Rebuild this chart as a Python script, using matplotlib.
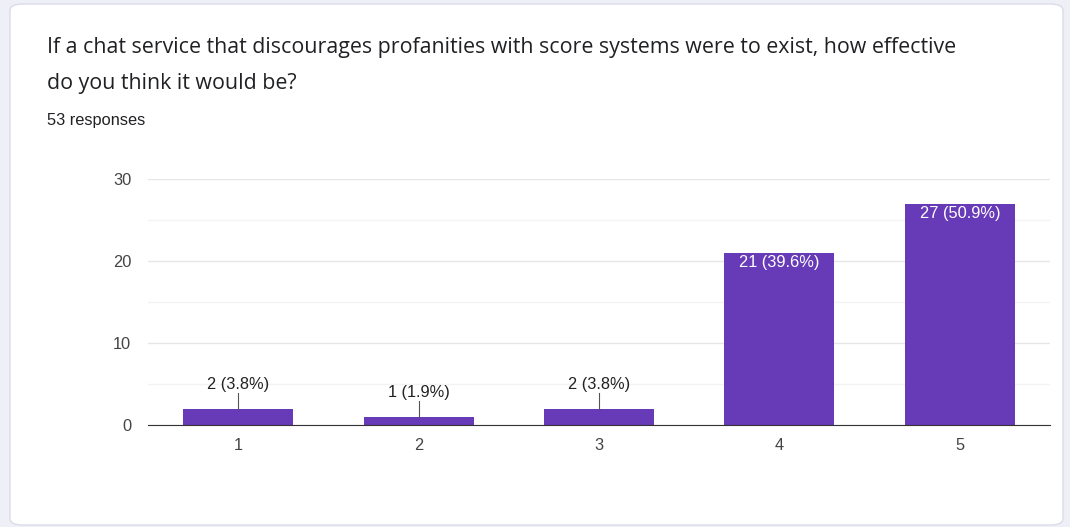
import matplotlib.pyplot as plt
from matplotlib.patches import FancyBboxPatch

# survey data
categories = ['1', '2', '3', '4', '5']
counts = [2, 1, 2, 21, 27]
total = 53
title_lines = ["If a chat service that discourages profanities with score systems were to exist, how effective",
               "do you think it would be?"]
subtitle = f"{total} responses"

purple = '#673ab7'

fig = plt.figure(figsize=(10.7, 5.27), dpi=100)
fig.patch.set_facecolor('#efeff7')

# white card behind the chart
card = FancyBboxPatch((10 / 1070, 2 / 527), 1053 / 1070, 521 / 527,
                      boxstyle="round,pad=0,rounding_size=0.012",
                      transform=fig.transFigure, facecolor='white',
                      edgecolor='#dcdce8', linewidth=1, zorder=-10)
fig.patches.append(card)

fig.text(0.044, 1 - 48 / 527, title_lines[0], fontsize=15.4, family='Open Sans',
         color='#202124', va='center')
fig.text(0.044, 1 - 84 / 527, title_lines[1], fontsize=15.4, family='Open Sans',
         color='#202124', va='center')
fig.text(0.044, 1 - 121 / 527, subtitle, fontsize=11.8, family='Liberation Sans',
         color='#202124', va='center')

ax = fig.add_axes([0.1383, 0.1935, 0.843, 0.4668])
ax.set_facecolor('white')
x = range(len(categories))
bars = ax.bar(x, counts, width=0.61, color=purple, zorder=3)

ax.set_xlim(-0.5, len(categories) - 0.5)
ax.set_ylim(0, 30)
ax.set_yticks([0, 10, 20, 30])
ax.set_yticks([5, 15, 25], minor=True)
ax.set_xticks(list(x))
ax.set_xticklabels(categories)
ax.grid(axis='y', which='major', color='#e6e6e6', linewidth=1, zorder=0)
ax.grid(axis='y', which='minor', color='#f3f3f3', linewidth=1, zorder=0)
for s in ['top', 'right', 'left']:
    ax.spines[s].set_visible(False)
ax.spines['bottom'].set_color('#333333')
ax.spines['bottom'].set_zorder(4)
ax.tick_params(axis='both', which='both', length=0, labelsize=11.8, colors='#444444')
ax.tick_params(axis='y', pad=12)
ax.tick_params(axis='x', pad=9)
for lbl in ax.get_xticklabels() + ax.get_yticklabels():
    lbl.set_family('Liberation Sans')

for i, c in enumerate(counts):
    txt = f"{c} ({c / total * 100:.1f}%)"
    if c < 5:
        ax.plot([i, i], [c, c + 1.9], color='#555555', linewidth=0.8, zorder=4)
        ax.text(i, c + 3.0, txt, ha='center', va='center', fontsize=11.8,
                family='Liberation Sans', color='#222222')
    else:
        ax.text(i, c - 1.2, txt, ha='center', va='center', fontsize=11.8,
                family='Liberation Sans', color='white', zorder=5)

plt.savefig('out.png', dpi=100, facecolor=fig.get_facecolor())
